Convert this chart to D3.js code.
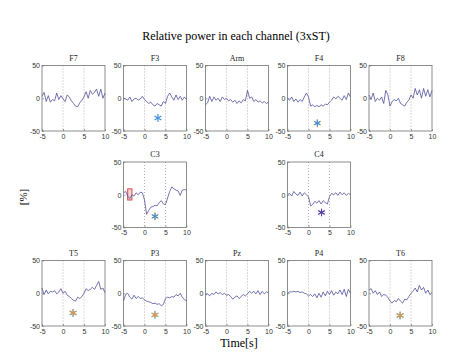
<!DOCTYPE html>
<html>
<head>
<meta charset="utf-8">
<script src="https://cdn.jsdelivr.net/npm/d3@7"></script>
<style>
  body { margin: 0; background: #fff; }
  .tick text { font-family: "Liberation Sans", sans-serif; font-size: 7px; fill: #333; }
  .axis path.domain { stroke: none; }
  .axis .tick line { stroke: #666; stroke-width: 0.6; }
</style>
</head>
<body>
<div id="chart"></div>
<script>
// time axis (s), sampled every 0.5 s
var times = d3.range(31).map(function (i) { return -5 + i * 0.5; });

var channels = ["F7", "F3", "Arm", "F4", "F8", "C3", "C4", "T5", "P3", "Pz", "P4", "T6"];

var F7  = [3, 9, -5, 4, -6, -2, -4, 8, -2, 4, -1, -5, 5, 2, -4, -8, -12, -13, -7, -3, 2, 10, 0, 12, 6, 9, 14, 3, 14, 0, 8];
var F3  = [0, -1, -3, 2, -5, -1, 0, -3, -1, 3, -2, -5, -8, -6, -10, -12, -8, -10, -12, -5, -8, 3, 8, 2, -3, 5, -2, 3, -3, 2, -2];
var Arm = [-10, -7, 3, -5, 2, -3, 0, -5, 2, -2, 0, -4, -2, -6, -3, -8, -4, -7, -2, -4, 12, 0, 2, -5, -2, -6, -4, -7, -5, -8, -6];
var F4  = [0, -3, 2, -5, -1, -6, -2, -5, 2, 8, 2, -12, -10, -13, -11, -13, -10, -12, -9, -10, -6, -3, 2, -1, 3, 0, -3, 4, -2, 8, 2];
var F8  = [5, -2, 8, -5, 0, -3, 2, -8, 12, 5, -12, -5, -2, -4, 0, -8, -10, -12, -6, -3, 5, 0, 15, 5, 13, 0, 15, 3, 13, 2, 12];
var C3  = [3, 5, -2, -6, 0, -2, 3, 0, 4, 3, -8, -30, -24, -19, -18, -16, -17, -12, -9, -14, -15, -5, 5, 12, 9, 7, 6, -1, 7, 8, 7];
var C4  = [0, 2, -2, 5, 1, -1, 4, -2, 3, 0, -3, -17, -15, -10, -13, -9, -14, -9, -12, -14, -3, 2, 0, 3, -1, 4, 0, 3, -1, 2, 0];
var T5  = [8, -2, 5, -1, 3, 2, 4, -1, 2, 7, 0, 3, -3, -5, -8, -11, -12, -6, -8, -5, 0, 7, 4, 6, 9, 6, 12, 18, 6, 8, 1];
var P3  = [-12, -2, 0, -6, -9, -3, -8, -5, -8, -7, -10, -12, -13, -14, -16, -15, -17, -16, -19, -17, -8, -6, -7, -5, -6, -2, -4, 0, -6, -10, -11];
var Pz  = [-3, -1, -4, 0, -2, 2, -1, 1, -2, 0, -3, -2, -5, -9, -6, -4, -8, -5, -2, -4, -1, 3, 0, 3, -1, 4, -2, 3, -1, 2, 1];
var P4  = [0, 2, 2, 3, 2, 3, 1, 2, 0, -1, -4, -2, -5, -1, -7, 0, -6, 2, -4, 3, -2, 4, -3, 2, -1, 5, -2, 6, -5, 6, 0];
var T6  = [5, 7, 0, 4, -2, 2, -5, -2, -3, -6, -12, -15, -11, -13, -8, -12, -15, -9, -10, -5, 0, 3, 8, 2, 12, 5, 9, 0, 5, -2, 1];

var series = [F7, F3, Arm, F4, F8, C3, C4, T5, P3, Pz, P4, T6];

// grid cell (row, col) of each channel
var gridRow = [0, 0, 0, 0, 0, 1, 1, 2, 2, 2, 2, 2];
var gridCol = [0, 1, 2, 3, 4, 1, 3, 0, 1, 2, 3, 4];

// significance markers: channel, time, value, colours (drawn in order)
var starChannel = ["F3", "F4", "C3", "C4", "T5", "P3", "T6"];
var starTime    = [3.2, 2.1, 2.5, 3.1, 2.4, 2.5, 2.4];
var starValue   = [-30, -38, -33, -27, -30, -33, -34];
var starColors  = [["#3f8fd8"], ["#e09a40", "#3f8fd8"], ["#e09a40", "#3f8fd8"], ["#b060c0", "#4a3fa8"],
                   ["#3f8fd8", "#e09a40"], ["#3f8fd8", "#e09a40"], ["#3f8fd8", "#e09a40"]];

// highlighted window on C3: [t0, t1, v0, v1]
var boxWindow = [-4, -3, -8, 9];

var xTicks = [-5, 0, 5, 10];
var yTicks = [-50, 0, 50];
var markerTimes = [0, 5];

var width = 471, height = 352;
var panelW = 63, panelH = 65.5;
var colLeft = [42, 123.5, 205.5, 287.5, 369];
var rowTop = [65.5, 162, 260.5];

var svg = d3.select("#chart").append("svg")
    .attr("width", width)
    .attr("height", height);

svg.append("text")
    .attr("x", 236)
    .attr("y", 40)
    .attr("text-anchor", "middle")
    .style("font-family", "'Liberation Serif', serif")
    .style("font-size", "12px")
    .text("Relative power in each channel (3xST)");

svg.append("text")
    .attr("transform", "translate(27,197) rotate(-90)")
    .attr("text-anchor", "middle")
    .style("font-family", "'Liberation Serif', serif")
    .style("font-size", "11px")
    .text("[%]");

svg.append("text")
    .attr("x", 239)
    .attr("y", 347)
    .attr("text-anchor", "middle")
    .style("font-family", "'Liberation Serif', serif")
    .style("font-size", "12px")
    .text("Time[s]");

var x = d3.scaleLinear().domain([-5, 10]).range([0, panelW]);
var y = d3.scaleLinear().domain([-50, 50]).range([panelH, 0]);

var line = d3.line()
    .x(function (d, i) { return x(times[i]); })
    .y(function (d) { return y(d); });

channels.forEach(function (name, c) {
    var g = svg.append("g")
        .attr("transform", "translate(" + colLeft[gridCol[c]] + "," + rowTop[gridRow[c]] + ")");

    g.append("text")
        .attr("x", panelW / 2)
        .attr("y", -5)
        .attr("text-anchor", "middle")
        .style("font-family", "'Liberation Serif', serif")
        .style("font-size", "8px")
        .style("fill", "#222")
        .text(name);

    g.selectAll("line.marker")
        .data(markerTimes)
        .enter().append("line")
        .attr("class", "marker")
        .attr("x1", function (d) { return x(d); })
        .attr("x2", function (d) { return x(d); })
        .attr("y1", 0)
        .attr("y2", panelH)
        .attr("stroke", "#c49090")
        .attr("stroke-width", 0.8)
        .attr("stroke-dasharray", "1,2");

    g.append("g")
        .attr("class", "axis")
        .call(d3.axisLeft(y).tickValues(yTicks).tickSize(-2).tickPadding(2).tickFormat(String));

    g.append("g")
        .attr("class", "axis")
        .attr("transform", "translate(0," + panelH + ")")
        .call(d3.axisBottom(x).tickValues(xTicks).tickSize(-2).tickPadding(3).tickFormat(String));

    if (name === "C3") {
        g.append("rect")
            .attr("x", x(boxWindow[0]))
            .attr("y", y(boxWindow[3]))
            .attr("width", x(boxWindow[1]) - x(boxWindow[0]))
            .attr("height", y(boxWindow[2]) - y(boxWindow[3]))
            .attr("fill", "rgba(230,120,120,0.3)")
            .attr("stroke", "#d04848")
            .attr("stroke-width", 1);
    }

    g.append("path")
        .datum(series[c])
        .attr("d", line)
        .attr("fill", "none")
        .attr("stroke", "#50509a")
        .attr("stroke-width", 0.8);

    g.append("rect")
        .attr("width", panelW)
        .attr("height", panelH)
        .attr("fill", "none")
        .attr("stroke", "#707070")
        .attr("stroke-width", 0.8);

    var s = starChannel.indexOf(name);
    if (s >= 0) {
        var cols = starColors[s];
        cols.forEach(function (col, k) {
            var r = k === cols.length - 1 && cols.length > 1 ? 3.4 : 4;
            var sg = g.append("g")
                .attr("transform", "translate(" + x(starTime[s]) + "," + y(starValue[s]) + ")");
            [0, 60, 120].forEach(function (a) {
                var rad = (a + 90) * Math.PI / 180;
                sg.append("line")
                    .attr("x1", -r * Math.cos(rad)).attr("y1", -r * Math.sin(rad))
                    .attr("x2", r * Math.cos(rad)).attr("y2", r * Math.sin(rad))
                    .attr("stroke", col)
                    .attr("stroke-width", 1.1);
            });
        });
    }
});
</script>
</body>
</html>
